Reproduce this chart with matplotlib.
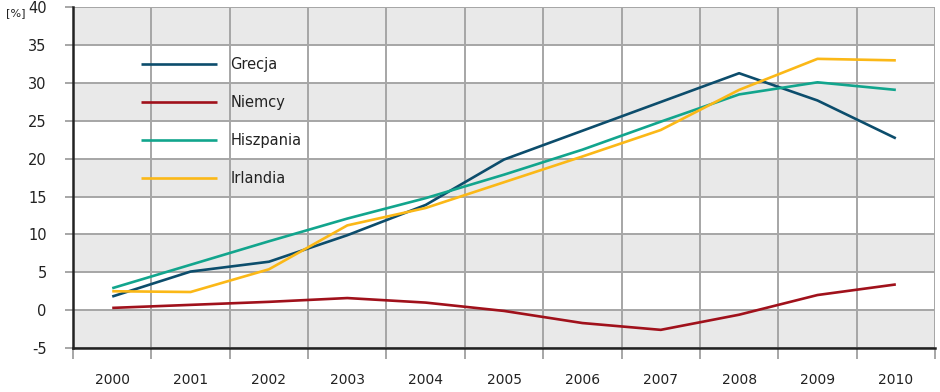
import matplotlib
matplotlib.use('Agg')
import matplotlib.pyplot as plt
import numpy as np

plt.rcParams['font.family'] = ['DejaVu Sans']

years = ['2000', '2001', '2002', '2003', '2004', '2005', '2006', '2007', '2008', '2009', '2010']
grecja = [1.8, 5.1, 6.4, 9.9, 13.9, 19.9, 23.7, 27.5, 31.3, 27.7, 22.7]
niemcy = [0.3, 0.7, 1.1, 1.6, 1.0, -0.1, -1.7, -2.6, -0.6, 2.0, 3.4]
hiszpania = [2.9, 6.0, 9.1, 12.1, 14.8, 17.9, 21.2, 24.9, 28.5, 30.1, 29.1]
irlandia = [2.5, 2.4, 5.4, 11.2, 13.5, 16.9, 20.3, 23.8, 29.1, 33.2, 33.0]

series = [
    ('Grecja', grecja, '#0c4d6c'),
    ('Niemcy', niemcy, '#a0111b'),
    ('Hiszpania', hiszpania, '#12a58d'),
    ('Irlandia', irlandia, '#fbb817'),
]

yticks = list(range(-5, 41, 5))

fig = plt.figure(figsize=(9.4, 3.92), dpi=100)
ax = fig.add_axes([0.0777, 0.1122, 0.917, 0.869])

x = np.arange(len(years))

# alternating grey bands
for lo in range(-5, 40, 10):
    ax.axhspan(lo, lo + 5, color='#e9e9e9', lw=0, zorder=0)

for name, vals, col in series:
    ax.plot(x, vals, color=col, lw=1.9, label=name, zorder=3, solid_capstyle='butt')

ax.set_xlim(-0.5, len(years) - 0.5)
ax.set_ylim(-5, 40)

grid_col = '#a6a6a6'
ax.set_yticks(yticks)
ax.set_yticklabels([str(v) for v in yticks])
ax.set_xticks(x)
ax.set_xticklabels(years)
ax.set_xticks(np.arange(-0.5, len(years)), minor=True)

ax.yaxis.grid(True, color=grid_col, lw=1.4, zorder=1)
ax.xaxis.grid(True, which='minor', color=grid_col, lw=1.4, zorder=1)
ax.set_axisbelow(True)

ax.tick_params(axis='y', length=6, width=1.4, color=grid_col, pad=13, labelsize=10.5, labelcolor='#222222')
ax.tick_params(axis='x', which='major', length=0, pad=18, labelsize=10, labelcolor='#222222')
ax.tick_params(axis='x', which='minor', length=8, width=1.4, color=grid_col)

for side in ['top', 'right']:
    ax.spines[side].set_visible(False)
for side in ['left', 'bottom']:
    ax.spines[side].set_color('#222222')
    ax.spines[side].set_linewidth(1.8)
    ax.spines[side].set_zorder(4)

ax.text(-0.078, 0.984, '[%]', transform=ax.transAxes, fontsize=8, color='#222222',
        ha='left', va='center')

leg = ax.legend(loc='upper left', bbox_to_anchor=(0.070, 0.875), frameon=False,
                handlelength=5.2, handletextpad=0.95, labelspacing=1.58,
                borderpad=0, fontsize=10.5)
for t in leg.get_texts():
    t.set_color('#222222')

fig.savefig('out.png', dpi=100)
